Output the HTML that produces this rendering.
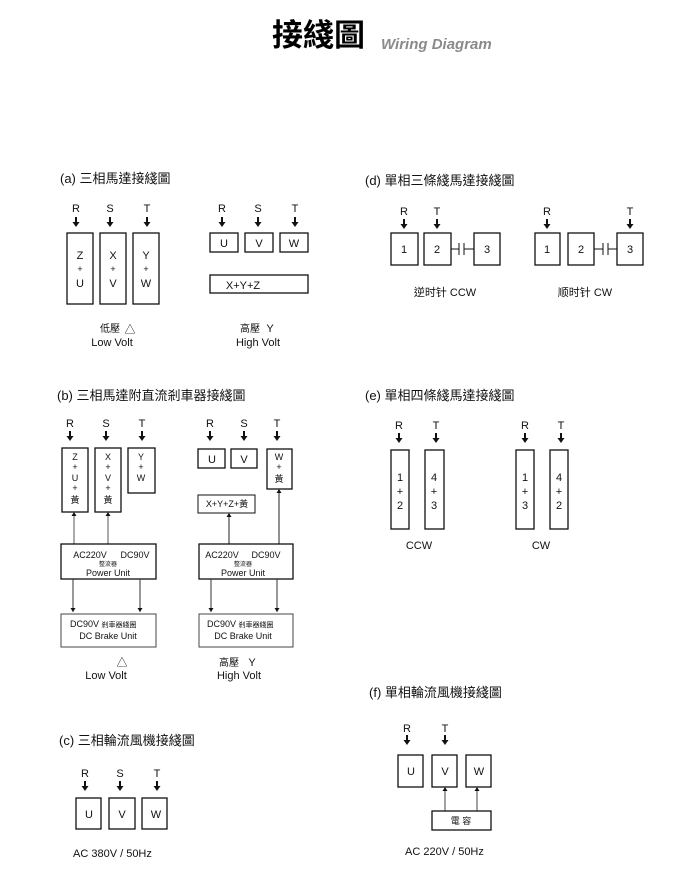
<!DOCTYPE html>
<html><head><meta charset="utf-8"><style>
html,body{margin:0;padding:0;background:#fff;}
svg{display:block;}
text{font-family:"Liberation Sans","Noto Sans CJK TC",sans-serif;fill:#111;}
.c{text-anchor:middle;}
.b{fill:none;stroke:#111;stroke-width:1.3;}
.h{font-size:13px;}
.s{font-size:11px;}
.t{font-size:9px;}
</style></head><body>
<svg width="680" height="876" viewBox="0 0 680 876" xmlns="http://www.w3.org/2000/svg">
<defs>
<g id="ar"><rect x="-1" y="0" width="2" height="6" fill="#111"/><polygon points="-3.5,5 3.5,5 0,10" fill="#111"/></g>
<g id="up"><polygon points="-2.5,4 2.5,4 0,0" fill="#111"/></g>
<g id="dn"><polygon points="-2.5,-4 2.5,-4 0,0" fill="#111"/></g>
</defs>
<!-- Title -->
<text x="272" y="46" style="font-size:31px;font-weight:bold;fill:#000">接綫圖</text>
<text x="381" y="49" style="font-size:15px;font-weight:bold;font-style:italic;fill:#8a8a8a">Wiring Diagram</text>

<!-- (a) -->
<text x="60" y="183" class="h">(a)  三相馬達接綫圖</text>
<g class="s">
<text x="76" y="212" class="c">R</text><text x="110" y="212" class="c">S</text><text x="147" y="212" class="c">T</text>
</g>
<use href="#ar" x="76" y="217"/><use href="#ar" x="110" y="217"/><use href="#ar" x="147" y="217"/>
<rect x="67" y="233" width="26" height="71" class="b"/>
<rect x="100" y="233" width="26" height="71" class="b"/>
<rect x="133" y="233" width="26" height="71" class="b"/>
<g class="s">
<text x="80" y="259" class="c">Z</text><text x="80" y="272" class="c" style="font-size:9px">+</text><text x="80" y="287" class="c">U</text>
<text x="113" y="259" class="c">X</text><text x="113" y="272" class="c" style="font-size:9px">+</text><text x="113" y="287" class="c">V</text>
<text x="146" y="259" class="c">Y</text><text x="146" y="272" class="c" style="font-size:9px">+</text><text x="146" y="287" class="c">W</text>
<text x="222" y="212" class="c">R</text><text x="258" y="212" class="c">S</text><text x="295" y="212" class="c">T</text>
</g>
<use href="#ar" x="222" y="217"/><use href="#ar" x="258" y="217"/><use href="#ar" x="295" y="217"/>
<rect x="210" y="233" width="28" height="19" class="b"/>
<rect x="245" y="233" width="28" height="19" class="b"/>
<rect x="280" y="233" width="28" height="19" class="b"/>
<rect x="210" y="275" width="98" height="18" class="b"/>
<g class="s">
<text x="224" y="247" class="c">U</text><text x="259" y="247" class="c">V</text><text x="294" y="247" class="c">W</text>
<text x="243" y="289" class="c">X+Y+Z</text>
<text x="110" y="332" class="c" style="font-size:10px">低壓</text><text x="130" y="333" class="c">△</text>
<text x="112" y="346" class="c">Low  Volt</text>
<text x="250" y="332" class="c" style="font-size:10px">高壓</text><text x="270" y="332" class="c">Y</text>
<text x="258" y="346" class="c">High  Volt</text>
</g>

<!-- (b) -->
<text x="57" y="400" class="h">(b) 三相馬達附直流剎車器接綫圖</text>
<g class="s">
<text x="70" y="427" class="c">R</text><text x="106" y="427" class="c">S</text><text x="142" y="427" class="c">T</text>
<text x="210" y="427" class="c">R</text><text x="244" y="427" class="c">S</text><text x="277" y="427" class="c">T</text>
</g>
<use href="#ar" x="70" y="431"/><use href="#ar" x="106" y="431"/><use href="#ar" x="142" y="431"/>
<use href="#ar" x="210" y="431"/><use href="#ar" x="244" y="431"/><use href="#ar" x="277" y="431"/>
<rect x="62" y="448" width="26" height="64" class="b"/>
<rect x="95" y="448" width="26" height="64" class="b"/>
<rect x="128" y="448" width="27" height="45" class="b"/>
<g class="t">
<text x="75" y="460" class="c">Z</text><text x="75" y="470" class="c">+</text><text x="75" y="481" class="c">U</text><text x="75" y="491" class="c">+</text><text x="75" y="503" class="c">黃</text>
<text x="108" y="460" class="c">X</text><text x="108" y="470" class="c">+</text><text x="108" y="481" class="c">V</text><text x="108" y="491" class="c">+</text><text x="108" y="503" class="c">黃</text>
<text x="141" y="460" class="c">Y</text><text x="141" y="470" class="c">+</text><text x="141" y="481" class="c">W</text>
</g>
<line x1="74" y1="512" x2="74" y2="544" stroke="#555"/><use href="#up" x="74" y="512"/>
<line x1="108" y1="512" x2="108" y2="544" stroke="#555"/><use href="#up" x="108" y="512"/>
<rect x="61" y="544" width="95" height="35" class="b"/>
<text x="90" y="558" class="c t">AC220V</text><text x="135" y="558" class="c t">DC90V</text>
<text x="108" y="566" class="c" style="font-size:6px">整流器</text>
<text x="108" y="576" class="c t">Power Unit</text>
<line x1="73" y1="579" x2="73" y2="612" stroke="#333"/><use href="#dn" x="73" y="612"/>
<line x1="140" y1="579" x2="140" y2="612" stroke="#333"/><use href="#dn" x="140" y="612"/>
<rect x="61" y="614" width="95" height="33" class="b" style="stroke:#444;stroke-width:1"/>
<text x="70" y="627" class="t">DC90V <tspan style="font-size:7px">剎車器綫圈</tspan></text>
<text x="108" y="639" class="c t">DC Brake Unit</text>

<rect x="198" y="449" width="27" height="19" class="b"/>
<rect x="231" y="449" width="26" height="19" class="b"/>
<rect x="267" y="449" width="25" height="40" class="b"/>
<rect x="198" y="495" width="57" height="18" class="b" style="stroke-width:1"/>
<text x="212" y="463" class="c s">U</text><text x="244" y="463" class="c s">V</text>
<text x="279" y="460" class="c t">W</text><text x="279" y="470" class="c t">+</text><text x="279" y="482" class="c t">黃</text>
<text x="227" y="507" class="c t">X+Y+Z+黃</text>
<line x1="229" y1="513" x2="229" y2="544" stroke="#222"/><use href="#up" x="229" y="513"/>
<line x1="279" y1="489" x2="279" y2="544" stroke="#222"/><use href="#up" x="279" y="489"/>
<rect x="199" y="544" width="94" height="35" class="b"/>
<text x="222" y="558" class="c t">AC220V</text><text x="266" y="558" class="c t">DC90V</text>
<text x="243" y="566" class="c" style="font-size:6px">整流器</text>
<text x="243" y="576" class="c t">Power Unit</text>
<line x1="211" y1="579" x2="211" y2="612" stroke="#333"/><use href="#dn" x="211" y="612"/>
<line x1="277" y1="579" x2="277" y2="612" stroke="#333"/><use href="#dn" x="277" y="612"/>
<rect x="199" y="614" width="94" height="33" class="b" style="stroke:#444;stroke-width:1"/>
<text x="207" y="627" class="t">DC90V <tspan style="font-size:7px">剎車器綫圈</tspan></text>
<text x="243" y="639" class="c t">DC Brake Unit</text>
<g class="s">
<text x="122" y="666" class="c">△</text><text x="106" y="679" class="c">Low  Volt</text>
<text x="229" y="666" class="c" style="font-size:10px">高壓</text><text x="252" y="666" class="c">Y</text>
<text x="239" y="679" class="c">High  Volt</text>
</g>

<!-- (c) -->
<text x="59" y="745" class="h">(c) 三相輪流風機接綫圖</text>
<g class="s">
<text x="85" y="777" class="c">R</text><text x="120" y="777" class="c">S</text><text x="157" y="777" class="c">T</text>
</g>
<use href="#ar" x="85" y="781"/><use href="#ar" x="120" y="781"/><use href="#ar" x="157" y="781"/>
<rect x="76" y="798" width="25" height="31" class="b"/>
<rect x="109" y="798" width="26" height="31" class="b"/>
<rect x="142" y="798" width="25" height="31" class="b"/>
<g class="s">
<text x="89" y="818" class="c">U</text><text x="122" y="818" class="c">V</text><text x="156" y="818" class="c">W</text>
<text x="73" y="857">AC  380V / 50Hz</text>
</g>

<!-- (d) -->
<text x="365" y="185" class="h">(d)  單相三條綫馬達接綫圖</text>
<g class="s">
<text x="404" y="215" class="c">R</text><text x="437" y="215" class="c">T</text>
<text x="547" y="215" class="c">R</text><text x="630" y="215" class="c">T</text>
</g>
<use href="#ar" x="404" y="219"/><use href="#ar" x="437" y="219"/>
<use href="#ar" x="547" y="219"/><use href="#ar" x="630" y="219"/>
<rect x="391" y="233" width="27" height="32" class="b"/>
<rect x="424" y="233" width="27" height="32" class="b"/>
<rect x="474" y="233" width="26" height="32" class="b"/>
<path d="M451 249H459M459 243V255M464 243V255M464 249H474" class="b" style="stroke-width:1"/>
<rect x="535" y="233" width="25" height="32" class="b"/>
<rect x="568" y="233" width="26" height="32" class="b"/>
<rect x="617" y="233" width="26" height="32" class="b"/>
<path d="M594 249H603M603 243V255M608 243V255M608 249H617" class="b" style="stroke-width:1"/>
<g class="s">
<text x="404" y="253" class="c">1</text><text x="437" y="253" class="c">2</text><text x="487" y="253" class="c">3</text>
<text x="547" y="253" class="c">1</text><text x="581" y="253" class="c">2</text><text x="630" y="253" class="c">3</text>
<text x="445" y="296" class="c">逆时针 CCW</text>
<text x="585" y="296" class="c">顺时针 CW</text>
</g>

<!-- (e) -->
<text x="365" y="400" class="h">(e)  單相四條綫馬達接綫圖</text>
<g class="s">
<text x="399" y="429" class="c">R</text><text x="436" y="429" class="c">T</text>
<text x="525" y="429" class="c">R</text><text x="561" y="429" class="c">T</text>
</g>
<use href="#ar" x="399" y="433"/><use href="#ar" x="436" y="433"/>
<use href="#ar" x="525" y="433"/><use href="#ar" x="561" y="433"/>
<rect x="391" y="450" width="18" height="79" class="b"/>
<rect x="425" y="450" width="19" height="79" class="b"/>
<rect x="516" y="450" width="18" height="79" class="b"/>
<rect x="550" y="450" width="18" height="79" class="b"/>
<g class="s">
<text x="400" y="481" class="c">1</text><text x="400" y="495" class="c">+</text><text x="400" y="509" class="c">2</text>
<text x="434" y="481" class="c">4</text><text x="434" y="495" class="c">+</text><text x="434" y="509" class="c">3</text>
<text x="525" y="481" class="c">1</text><text x="525" y="495" class="c">+</text><text x="525" y="509" class="c">3</text>
<text x="559" y="481" class="c">4</text><text x="559" y="495" class="c">+</text><text x="559" y="509" class="c">2</text>
<text x="419" y="549" class="c">CCW</text><text x="541" y="549" class="c">CW</text>
</g>

<!-- (f) -->
<text x="369" y="697" class="h">(f)  單相輪流風機接綫圖</text>
<g class="s">
<text x="407" y="732" class="c">R</text><text x="445" y="732" class="c">T</text>
</g>
<use href="#ar" x="407" y="735"/><use href="#ar" x="445" y="735"/>
<rect x="398" y="755" width="25" height="32" class="b"/>
<rect x="432" y="755" width="25" height="32" class="b"/>
<rect x="466" y="755" width="25" height="32" class="b"/>
<g class="s">
<text x="411" y="775" class="c">U</text><text x="445" y="775" class="c">V</text><text x="479" y="775" class="c">W</text>
</g>
<line x1="445" y1="787" x2="445" y2="811" stroke="#444"/><use href="#up" x="445" y="787"/>
<line x1="477" y1="787" x2="477" y2="811" stroke="#444"/><use href="#up" x="477" y="787"/>
<rect x="432" y="811" width="59" height="19" class="b"/>
<text x="461" y="824" class="c t">電  容</text>
<text x="405" y="855" class="s">AC 220V / 50Hz</text>
</svg>
</body></html>
